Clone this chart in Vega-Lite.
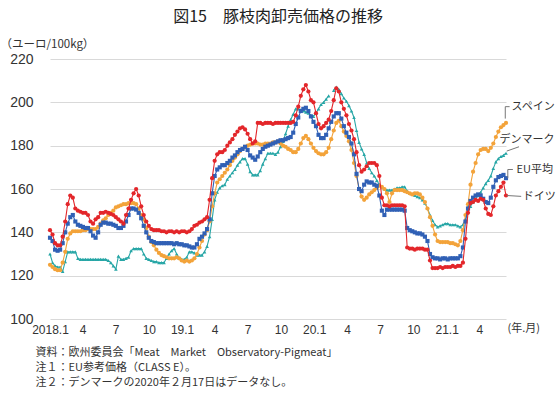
{
"$schema":"https://vega.github.io/schema/vega-lite/v6.json",
"width":456,"height":260,
"autosize":{"type":"none"},
"padding":{"left":50,"top":59,"right":52,"bottom":76},
"background":"white",
"config":{"font":"Noto Sans CJK JP","view":{"stroke":null}},
"title":{"text":"図15　豚枝肉卸売価格の推移","fontSize":16,"fontWeight":"normal","anchor":"middle","frame":"group","offset":13,"color":"#222"},
"datasets":{
"w":[
{"d":"2018-01-01","ES":125,"DK":130,"EU":137.5,"DE":141},
{"d":"2018-01-08","ES":124,"DK":126,"EU":136,"DE":139},
{"d":"2018-01-15","ES":123,"DK":124.5,"EU":132,"DE":135},
{"d":"2018-01-22","ES":122.5,"DK":124,"EU":131.5,"DE":134},
{"d":"2018-01-29","ES":122.5,"DK":124,"EU":132,"DE":134},
{"d":"2018-02-05","ES":126,"DK":122,"EU":135,"DE":138},
{"d":"2018-02-12","ES":131,"DK":126.5,"EU":140,"DE":145},
{"d":"2018-02-19","ES":137,"DK":131,"EU":144,"DE":153},
{"d":"2018-02-26","ES":139.5,"DK":131,"EU":147,"DE":157},
{"d":"2018-03-05","ES":140.5,"DK":131,"EU":148,"DE":156},
{"d":"2018-03-12","ES":140.5,"DK":131,"EU":145,"DE":151},
{"d":"2018-03-19","ES":140.5,"DK":128,"EU":143.5,"DE":150},
{"d":"2018-03-26","ES":140.5,"DK":127.5,"EU":143,"DE":149.5},
{"d":"2018-04-02","ES":141,"DK":127.5,"EU":142.5,"DE":149},
{"d":"2018-04-09","ES":141,"DK":127.5,"EU":142,"DE":149},
{"d":"2018-04-16","ES":141.5,"DK":127.5,"EU":142,"DE":148},
{"d":"2018-04-23","ES":141.5,"DK":127.5,"EU":140.5,"DE":145},
{"d":"2018-04-30","ES":141.5,"DK":127.5,"EU":138.5,"DE":144},
{"d":"2018-05-07","ES":141.5,"DK":127.5,"EU":137.5,"DE":146},
{"d":"2018-05-14","ES":142.5,"DK":127.5,"EU":140,"DE":147},
{"d":"2018-05-21","ES":144,"DK":127.5,"EU":143.5,"DE":149},
{"d":"2018-05-28","ES":145.5,"DK":127.5,"EU":144.5,"DE":149},
{"d":"2018-06-04","ES":146.5,"DK":127.5,"EU":144.5,"DE":149.5},
{"d":"2018-06-11","ES":148,"DK":127,"EU":144,"DE":149},
{"d":"2018-06-18","ES":149,"DK":126,"EU":144,"DE":148.5},
{"d":"2018-06-25","ES":150,"DK":124.5,"EU":143.5,"DE":148},
{"d":"2018-07-02","ES":151.5,"DK":123,"EU":143,"DE":147},
{"d":"2018-07-09","ES":152,"DK":129,"EU":142,"DE":146},
{"d":"2018-07-16","ES":152.5,"DK":127.5,"EU":142,"DE":145},
{"d":"2018-07-23","ES":153,"DK":127.5,"EU":143,"DE":144},
{"d":"2018-07-30","ES":153,"DK":128,"EU":145,"DE":148},
{"d":"2018-08-06","ES":153.5,"DK":128.5,"EU":148,"DE":151},
{"d":"2018-08-13","ES":153.5,"DK":131.5,"EU":151,"DE":155},
{"d":"2018-08-20","ES":153.5,"DK":132.5,"EU":151,"DE":158},
{"d":"2018-08-27","ES":153,"DK":132.5,"EU":150.5,"DE":160},
{"d":"2018-09-03","ES":151,"DK":132.5,"EU":149,"DE":157},
{"d":"2018-09-10","ES":148,"DK":132.5,"EU":146.5,"DE":152},
{"d":"2018-09-17","ES":146,"DK":130,"EU":143,"DE":148},
{"d":"2018-09-24","ES":142,"DK":128,"EU":140,"DE":145},
{"d":"2018-10-01","ES":138,"DK":127.5,"EU":137.5,"DE":143},
{"d":"2018-10-08","ES":135.5,"DK":127,"EU":136,"DE":141.5},
{"d":"2018-10-15","ES":134,"DK":126.5,"EU":135.5,"DE":141},
{"d":"2018-10-22","ES":132,"DK":126.5,"EU":135,"DE":141},
{"d":"2018-10-29","ES":130.5,"DK":126,"EU":135,"DE":141},
{"d":"2018-11-05","ES":129.5,"DK":126,"EU":135,"DE":140.5},
{"d":"2018-11-12","ES":129,"DK":126,"EU":135,"DE":140.5},
{"d":"2018-11-19","ES":128.5,"DK":128,"EU":135,"DE":140},
{"d":"2018-11-26","ES":128,"DK":130,"EU":135,"DE":140.5},
{"d":"2018-12-03","ES":128,"DK":131.5,"EU":135,"DE":140.5},
{"d":"2018-12-10","ES":128,"DK":132.5,"EU":134.5,"DE":140},
{"d":"2018-12-17","ES":128.5,"DK":130,"EU":135,"DE":140.5},
{"d":"2018-12-24","ES":128,"DK":128,"EU":134.5,"DE":140},
{"d":"2018-12-31","ES":127,"DK":127.5,"EU":134.5,"DE":140.5},
{"d":"2019-01-07","ES":126.5,"DK":127.5,"EU":134,"DE":140.5},
{"d":"2019-01-14","ES":127,"DK":128.5,"EU":134,"DE":140},
{"d":"2019-01-21","ES":126.5,"DK":131,"EU":133.5,"DE":140.5},
{"d":"2019-01-28","ES":127,"DK":131,"EU":133,"DE":141.5},
{"d":"2019-02-04","ES":128,"DK":130.5,"EU":133,"DE":143},
{"d":"2019-02-11","ES":130,"DK":129.5,"EU":134.5,"DE":143.5},
{"d":"2019-02-18","ES":133,"DK":129.5,"EU":137,"DE":144.5},
{"d":"2019-02-25","ES":136,"DK":129.5,"EU":138,"DE":145},
{"d":"2019-03-04","ES":139,"DK":131,"EU":139.5,"DE":146},
{"d":"2019-03-11","ES":141,"DK":133.5,"EU":141.5,"DE":147},
{"d":"2019-03-18","ES":145,"DK":138,"EU":146,"DE":155},
{"d":"2019-03-25","ES":152,"DK":146,"EU":158,"DE":165},
{"d":"2019-04-01","ES":158,"DK":155,"EU":166,"DE":173},
{"d":"2019-04-08","ES":163,"DK":158.5,"EU":169,"DE":176},
{"d":"2019-04-15","ES":164.5,"DK":160.5,"EU":170,"DE":177},
{"d":"2019-04-22","ES":166,"DK":161.5,"EU":171,"DE":177},
{"d":"2019-04-29","ES":167.5,"DK":162,"EU":171,"DE":178},
{"d":"2019-05-06","ES":169,"DK":164.5,"EU":172,"DE":180},
{"d":"2019-05-13","ES":171,"DK":166,"EU":173,"DE":181.5},
{"d":"2019-05-20","ES":173,"DK":167.5,"EU":174.5,"DE":183},
{"d":"2019-05-27","ES":174.5,"DK":169,"EU":175.5,"DE":185},
{"d":"2019-06-03","ES":176,"DK":171,"EU":177,"DE":186.5},
{"d":"2019-06-10","ES":177.5,"DK":172.5,"EU":178,"DE":188},
{"d":"2019-06-17","ES":178.5,"DK":174,"EU":178.5,"DE":188.5},
{"d":"2019-06-24","ES":179.5,"DK":174,"EU":179.5,"DE":187.5},
{"d":"2019-07-01","ES":180,"DK":171.5,"EU":178,"DE":185.5},
{"d":"2019-07-08","ES":180.5,"DK":168,"EU":175.5,"DE":183},
{"d":"2019-07-15","ES":181,"DK":166.5,"EU":174.5,"DE":181},
{"d":"2019-07-22","ES":181,"DK":166.5,"EU":173.5,"DE":182},
{"d":"2019-07-29","ES":181,"DK":166.5,"EU":175,"DE":190.5},
{"d":"2019-08-05","ES":180.5,"DK":168.5,"EU":177,"DE":190.5},
{"d":"2019-08-12","ES":180.5,"DK":171.5,"EU":178.5,"DE":190},
{"d":"2019-08-19","ES":181,"DK":174,"EU":179.5,"DE":190.5},
{"d":"2019-08-26","ES":181,"DK":176.5,"EU":180,"DE":190.5},
{"d":"2019-09-02","ES":181,"DK":176.5,"EU":180.5,"DE":190.5},
{"d":"2019-09-09","ES":181.5,"DK":176.5,"EU":181,"DE":190},
{"d":"2019-09-16","ES":181.5,"DK":176,"EU":181.5,"DE":190.5},
{"d":"2019-09-23","ES":182,"DK":177,"EU":182,"DE":190.5},
{"d":"2019-09-30","ES":181,"DK":179.5,"EU":182.5,"DE":190.5},
{"d":"2019-10-07","ES":180,"DK":182,"EU":182.5,"DE":190.5},
{"d":"2019-10-14","ES":179.5,"DK":185.5,"EU":183,"DE":190.5},
{"d":"2019-10-21","ES":178.5,"DK":189,"EU":183.5,"DE":190.5},
{"d":"2019-10-28","ES":178,"DK":192,"EU":184,"DE":190.5},
{"d":"2019-11-04","ES":177,"DK":194.5,"EU":186,"DE":191},
{"d":"2019-11-11","ES":177,"DK":197,"EU":190,"DE":194},
{"d":"2019-11-18","ES":178.5,"DK":197,"EU":193,"DE":198},
{"d":"2019-11-25","ES":181,"DK":196.5,"EU":196,"DE":203},
{"d":"2019-12-02","ES":183.5,"DK":196,"EU":197,"DE":206},
{"d":"2019-12-09","ES":184.5,"DK":195.5,"EU":197.5,"DE":208},
{"d":"2019-12-16","ES":183,"DK":195,"EU":196,"DE":205},
{"d":"2019-12-23","ES":181,"DK":194,"EU":193.5,"DE":201},
{"d":"2019-12-30","ES":179,"DK":193.5,"EU":191,"DE":200},
{"d":"2020-01-06","ES":177.5,"DK":195,"EU":189,"DE":195},
{"d":"2020-01-13","ES":176.5,"DK":197,"EU":185,"DE":190},
{"d":"2020-01-20","ES":176,"DK":199,"EU":183.5,"DE":188},
{"d":"2020-01-27","ES":176,"DK":200,"EU":183.5,"DE":189},
{"d":"2020-02-03","ES":177,"DK":201.5,"EU":185,"DE":190.5},
{"d":"2020-02-10","ES":179,"DK":203,"EU":188,"DE":192},
{"d":"2020-02-17","ES":183,"DK":null,"EU":191,"DE":196},
{"d":"2020-02-24","ES":187,"DK":205.5,"EU":193.5,"DE":201},
{"d":"2020-03-02","ES":190.5,"DK":207,"EU":195,"DE":206.5},
{"d":"2020-03-09","ES":191.5,"DK":206,"EU":195,"DE":205},
{"d":"2020-03-16","ES":189,"DK":204,"EU":192.5,"DE":200},
{"d":"2020-03-23","ES":186.5,"DK":202,"EU":189,"DE":197},
{"d":"2020-03-30","ES":184.5,"DK":200.5,"EU":186,"DE":194},
{"d":"2020-04-06","ES":182,"DK":198.5,"EU":184,"DE":190},
{"d":"2020-04-13","ES":178,"DK":196,"EU":181,"DE":187},
{"d":"2020-04-20","ES":172,"DK":193,"EU":176,"DE":183},
{"d":"2020-04-27","ES":166,"DK":187,"EU":167,"DE":177},
{"d":"2020-05-04","ES":160,"DK":181.5,"EU":160,"DE":171},
{"d":"2020-05-11","ES":156.5,"DK":178.5,"EU":159,"DE":168},
{"d":"2020-05-18","ES":155,"DK":176,"EU":162,"DE":169},
{"d":"2020-05-25","ES":156,"DK":172,"EU":163.5,"DE":170.5},
{"d":"2020-06-01","ES":157.5,"DK":169.5,"EU":163,"DE":172},
{"d":"2020-06-08","ES":158.5,"DK":167.5,"EU":163,"DE":172},
{"d":"2020-06-15","ES":159.5,"DK":166,"EU":162,"DE":172},
{"d":"2020-06-22","ES":160.5,"DK":164,"EU":161.5,"DE":171},
{"d":"2020-06-29","ES":161.5,"DK":162,"EU":157,"DE":166},
{"d":"2020-07-06","ES":161,"DK":161,"EU":150,"DE":156},
{"d":"2020-07-13","ES":160,"DK":160,"EU":148,"DE":152.5},
{"d":"2020-07-20","ES":158,"DK":159.5,"EU":150.5,"DE":152.5},
{"d":"2020-07-27","ES":154,"DK":159.5,"EU":150.5,"DE":152},
{"d":"2020-08-03","ES":158,"DK":159.5,"EU":150.5,"DE":152.5},
{"d":"2020-08-10","ES":159.5,"DK":160,"EU":150.5,"DE":152.5},
{"d":"2020-08-17","ES":159.5,"DK":160.5,"EU":150.5,"DE":152.5},
{"d":"2020-08-24","ES":159.5,"DK":160.5,"EU":150.5,"DE":152.5},
{"d":"2020-08-31","ES":159.5,"DK":161,"EU":150.5,"DE":152.5},
{"d":"2020-09-07","ES":159,"DK":161,"EU":150,"DE":152},
{"d":"2020-09-14","ES":158.5,"DK":159,"EU":142,"DE":133},
{"d":"2020-09-21","ES":158,"DK":158,"EU":141,"DE":132.5},
{"d":"2020-09-28","ES":157.5,"DK":157.5,"EU":140.5,"DE":132.5},
{"d":"2020-10-05","ES":158,"DK":157,"EU":140,"DE":132},
{"d":"2020-10-12","ES":158,"DK":156.5,"EU":139.5,"DE":132.5},
{"d":"2020-10-19","ES":157.5,"DK":156,"EU":139.5,"DE":132.5},
{"d":"2020-10-26","ES":156,"DK":155,"EU":139,"DE":132.5},
{"d":"2020-11-02","ES":154,"DK":153.5,"EU":138,"DE":132},
{"d":"2020-11-09","ES":151,"DK":151,"EU":136,"DE":132},
{"d":"2020-11-16","ES":147,"DK":148,"EU":130,"DE":127},
{"d":"2020-11-23","ES":143,"DK":145.5,"EU":128.5,"DE":123.5},
{"d":"2020-11-30","ES":139,"DK":143.5,"EU":128,"DE":123.5},
{"d":"2020-12-07","ES":136,"DK":142.5,"EU":128,"DE":123.5},
{"d":"2020-12-14","ES":135.5,"DK":143,"EU":127.5,"DE":124},
{"d":"2020-12-21","ES":135.5,"DK":143.5,"EU":128,"DE":123.5},
{"d":"2020-12-28","ES":135.5,"DK":144,"EU":128,"DE":124},
{"d":"2021-01-04","ES":135.5,"DK":144,"EU":127.5,"DE":124},
{"d":"2021-01-11","ES":135,"DK":143.5,"EU":128,"DE":124},
{"d":"2021-01-18","ES":135,"DK":143.5,"EU":128,"DE":124.5},
{"d":"2021-01-25","ES":134.5,"DK":143.5,"EU":128,"DE":124},
{"d":"2021-02-01","ES":134,"DK":143,"EU":128,"DE":124.5},
{"d":"2021-02-08","ES":136,"DK":142.5,"EU":129,"DE":124.5},
{"d":"2021-02-15","ES":141,"DK":143.5,"EU":133,"DE":126},
{"d":"2021-02-22","ES":148,"DK":146,"EU":145,"DE":137},
{"d":"2021-03-01","ES":153,"DK":149.5,"EU":151,"DE":149},
{"d":"2021-03-08","ES":162,"DK":152,"EU":154.5,"DE":153.5},
{"d":"2021-03-15","ES":168,"DK":154,"EU":156,"DE":154},
{"d":"2021-03-22","ES":172,"DK":155.5,"EU":157,"DE":155},
{"d":"2021-03-29","ES":176,"DK":157,"EU":157.5,"DE":154.5},
{"d":"2021-04-05","ES":178,"DK":158.5,"EU":157,"DE":155.5},
{"d":"2021-04-12","ES":178.5,"DK":160.5,"EU":155.5,"DE":155},
{"d":"2021-04-19","ES":178.5,"DK":162.5,"EU":154,"DE":151},
{"d":"2021-04-26","ES":177.5,"DK":164,"EU":153.5,"DE":148.5},
{"d":"2021-05-03","ES":179,"DK":166,"EU":156,"DE":148},
{"d":"2021-05-10","ES":181,"DK":169.5,"EU":161,"DE":152},
{"d":"2021-05-17","ES":184,"DK":172.5,"EU":164,"DE":157},
{"d":"2021-05-24","ES":186.5,"DK":174,"EU":165.5,"DE":159},
{"d":"2021-05-31","ES":188.5,"DK":175,"EU":166,"DE":161},
{"d":"2021-06-07","ES":189.5,"DK":175.5,"EU":166.5,"DE":163},
{"d":"2021-06-14","ES":190.5,"DK":176.5,"EU":165,"DE":157}
],
"lab":[
{"d":"2021-06-29","v":198,"t":"スペイン"},
{"d":"2021-05-27","v":182.8,"t":"デンマーク"},
{"d":"2021-07-13","v":168.9,"t":"EU平均"},
{"d":"2021-07-30","v":156.4,"t":"ドイツ"},
{"d":"2021-06-18","v":95.6,"t":"(年.月)"}
],
"lead":[
{"g":"es","o":1,"d":"2021-06-12","v":192.5},
{"g":"es","o":2,"d":"2021-06-12","v":198},
{"g":"es","o":3,"d":"2021-06-24","v":198},
{"g":"dk","o":1,"d":"2021-06-16","v":177.5},
{"g":"dk","o":2,"d":"2021-07-20","v":179.5},
{"g":"eu","o":1,"d":"2021-06-19","v":165},
{"g":"eu","o":2,"d":"2021-06-19","v":169},
{"g":"eu","o":3,"d":"2021-07-03","v":169},
{"g":"de","o":1,"d":"2021-06-16","v":157},
{"g":"de","o":2,"d":"2021-07-26","v":156.6}
]
},
"encoding":{
"x":{"field":"d","type":"temporal",
"scale":{"type":"utc","domain":[{"year":2018,"month":1,"date":1,"utc":true},{"year":2021,"month":6,"date":14,"utc":true}]},
"axis":{"values":[
{"year":2018,"month":1,"date":1,"utc":true},{"year":2018,"month":4,"date":1,"utc":true},{"year":2018,"month":7,"date":1,"utc":true},{"year":2018,"month":10,"date":1,"utc":true},
{"year":2019,"month":1,"date":1,"utc":true},{"year":2019,"month":4,"date":1,"utc":true},{"year":2019,"month":7,"date":1,"utc":true},{"year":2019,"month":10,"date":1,"utc":true},
{"year":2020,"month":1,"date":1,"utc":true},{"year":2020,"month":4,"date":1,"utc":true},{"year":2020,"month":7,"date":1,"utc":true},{"year":2020,"month":10,"date":1,"utc":true},
{"year":2021,"month":1,"date":1,"utc":true},{"year":2021,"month":4,"date":1,"utc":true}],
"labelExpr":"utcmonth(datum.value) == 0 ? (utcyear(datum.value) == 2018 ? '2018.1' : slice(toString(utcyear(datum.value)), 2) + '.1') : toString(utcmonth(datum.value) + 1)",
"labelFlush":false,"labelOverlap":false,"grid":false,"ticks":false,"domain":false,
"labelFontSize":12,"labelColor":"#333","labelPadding":5,"labelFont":"Liberation Sans",
"titleX":-15,"titleY":27,"titleAlign":"left","titleAnchor":"start","titleBaseline":"top","titleLineHeight":15,
"titleFontSize":11,"titleFontWeight":"normal","titleColor":"#333"},
"title":["資料：欧州委員会「Meat　Market　Observatory-Pigmeat」","注１：EU参考価格（CLASS E）。","注２：デンマークの2020年２月17日はデータなし。"]},
"y":{"field":"DK","type":"quantitative","scale":{"domain":[100,220],"nice":false,"zero":false},
"axis":{"values":[100,120,140,160,180,200,220],"grid":true,"gridColor":"#d9d9d9","gridWidth":1,"domain":false,"ticks":false,
"labelFontSize":14,"labelColor":"#333","labelPadding":17,"labelFont":"Liberation Sans",
"titleAngle":0,"titleX":-50,"titleY":-15,"titleAlign":"left","titleBaseline":"middle",
"titleFontSize":11.5,"titleFontWeight":"normal","titleColor":"#333"},
"title":"（ユーロ/100kg）"}
},
"layer":[
{"data":{"name":"w"},
"mark":{"type":"line","color":"#27A6A6","strokeWidth":1.1,"point":{"shape":"triangle-up","size":13,"filled":true,"color":"#27A6A6"}},
"encoding":{"y":{"field":"DK","type":"quantitative","title":"（ユーロ/100kg）"}}},
{"data":{"name":"w"},
"mark":{"type":"line","color":"#F3A33A","strokeWidth":1.1,"point":{"shape":"circle","size":18,"filled":true,"color":"#F3A33A"}},
"encoding":{"y":{"field":"ES","type":"quantitative","title":"（ユーロ/100kg）"}}},
{"data":{"name":"w"},
"mark":{"type":"line","color":"#3060B5","strokeWidth":1.1,"point":{"shape":"square","size":17,"filled":true,"color":"#3060B5"}},
"encoding":{"y":{"field":"EU","type":"quantitative","title":"（ユーロ/100kg）"}}},
{"data":{"name":"w"},
"mark":{"type":"line","color":"#E3262A","strokeWidth":1.1,"point":{"shape":"circle","size":18,"filled":true,"color":"#E3262A"}},
"encoding":{"y":{"field":"DE","type":"quantitative","title":"（ユーロ/100kg）"}}},
{"data":{"name":"lead"},
"mark":{"type":"line","color":"#777","strokeWidth":1},
"encoding":{"y":{"field":"v","type":"quantitative","title":"（ユーロ/100kg）"},"detail":{"field":"g"},"order":{"field":"o"}}},
{"data":{"name":"lab"},
"mark":{"type":"text","align":"left","baseline":"middle","fontSize":11,"color":"#333"},
"encoding":{"y":{"field":"v","type":"quantitative","title":"（ユーロ/100kg）"},"text":{"field":"t"}}}
]
}
